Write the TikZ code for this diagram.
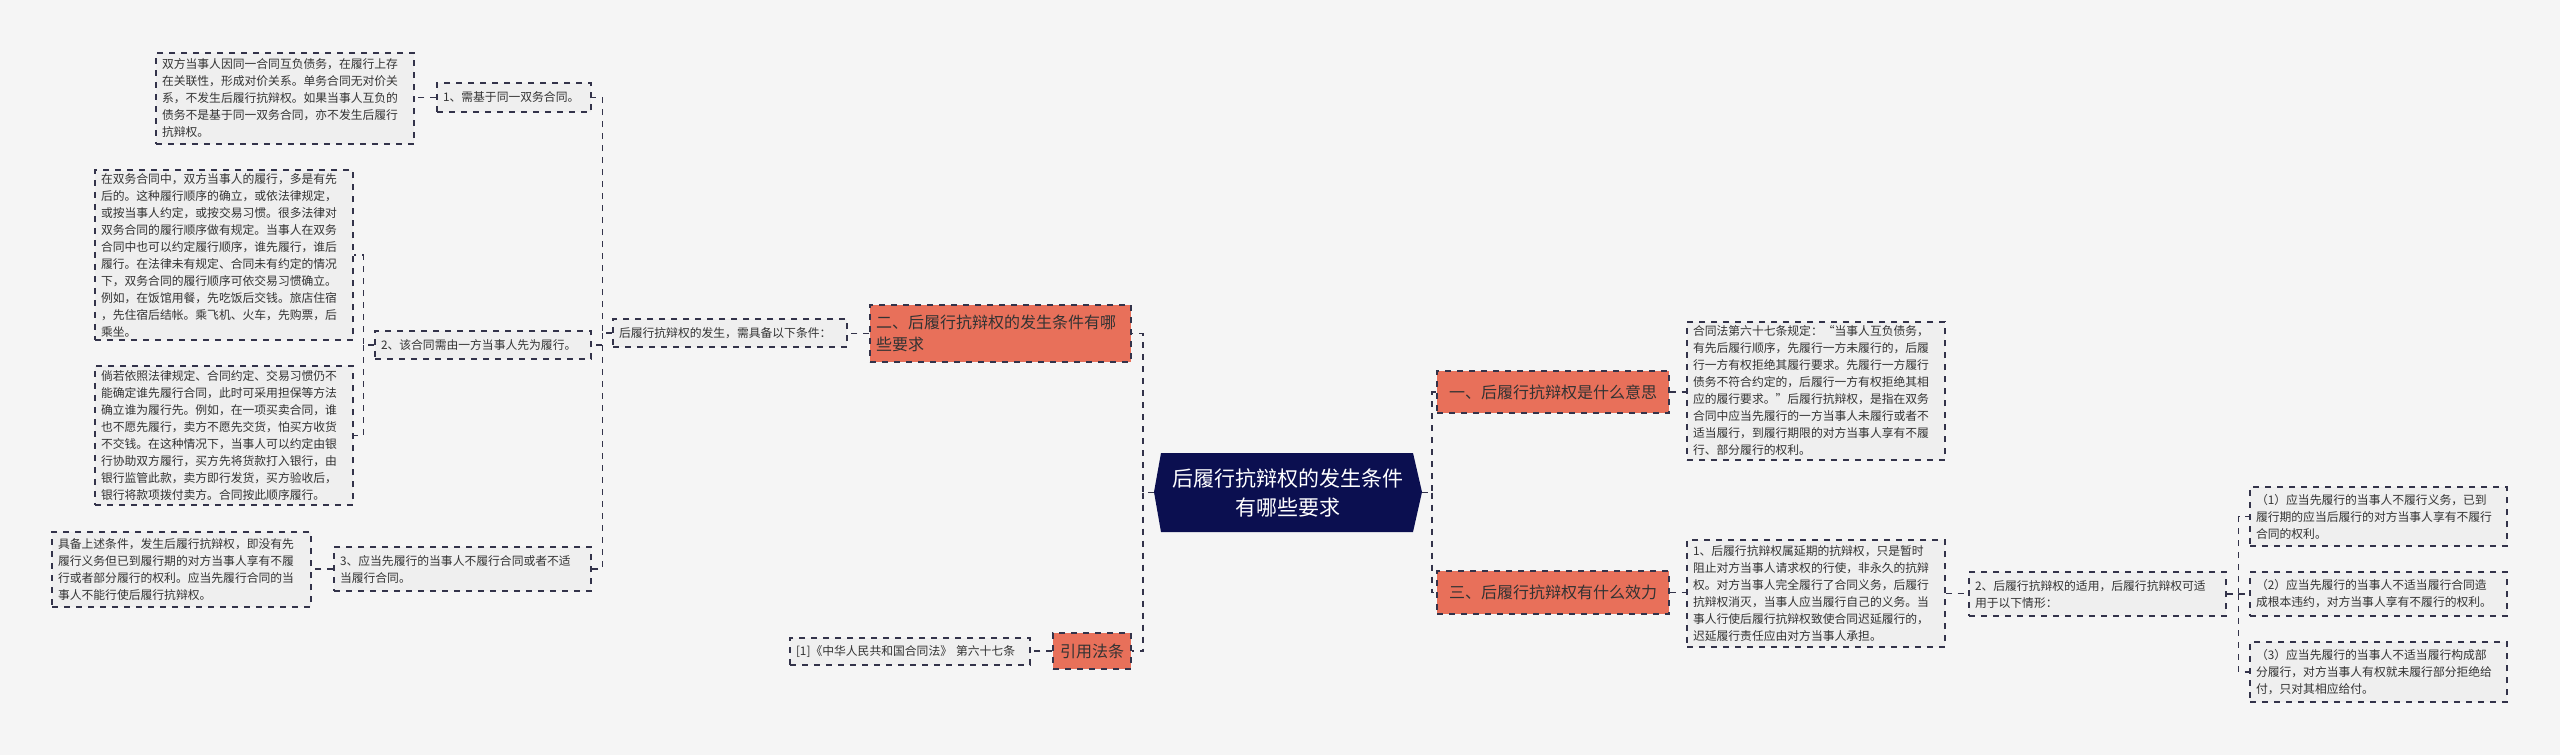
\documentclass[tikz,border=0pt]{standalone}
\usepackage{fontspec}
\setmainfont{Noto Sans CJK SC}
\definecolor{bg}{HTML}{F5F5F5}
\definecolor{leaffill}{HTML}{EFEFEF}
\definecolor{orng}{HTML}{E8705A}
\definecolor{navy}{HTML}{0B0F50}
\definecolor{ln}{HTML}{33334A}
\newcommand\bx[7]{%
\pgfmathsetmacro\cx{(#3+#5)/2}\pgfmathsetmacro\cy{(#4+#6)/2}%
\pgfmathsetmacro\ww{(#5-#3)*0.5-6}\pgfmathsetmacro\hh{(#6-#4)*0.5}%
\node[#1,text width=\ww pt,minimum height=\hh pt] (#2) at (\cx,\cy) {#7};}
\begin{document}
\begin{tikzpicture}[x=0.5pt,y=-0.5pt,
 leaf/.style={draw=ln,dashed,line width=0.6pt,fill=leaffill,inner xsep=3pt,inner ysep=0pt,align=left,font=\fontsize{5.9}{8.5}\selectfont,text=black!80},
 hub/.style={draw=ln,dashed,line width=0.6pt,fill=orng,inner xsep=3pt,inner ysep=0pt,align=left,font=\fontsize{8}{11}\selectfont,text=black!80},
 hubc/.style={hub,align=center},
 conn/.style={draw=ln,dashed,line width=0.7pt}]
\fill[bg] (0,0) rectangle (2560,755);
\useasboundingbox (0,0) rectangle (2560,755);
% root
\fill[navy] (1161,453) -- (1413,453) -- (1422,492) -- (1413,532) -- (1161,532) -- (1154,492) -- cycle;
\node[text=white,align=center,font=\fontsize{10.5}{14.5}\selectfont,minimum width=134pt,minimum height=39pt,inner sep=0pt] (root) at (1288,492.5) {后履行抗辩权的发生条件\\有哪些要求};
% left
\bx{hub}{n2}{870}{305}{1131}{362}{二、后履行抗辩权的发生条件有哪\\些要求}
\bx{hubc}{yin}{1053}{633}{1131}{669}{引用法条}
\bx{leaf}{ref}{790}{638}{1030}{665}{[1]《中华人民共和国合同法》 第六十七条}
\bx{leaf}{cond}{613}{319}{847}{347}{后履行抗辩权的发生，需具备以下条件：}
\bx{leaf}{c1}{437}{83}{591}{112}{1、需基于同一双务合同。}
\bx{leaf}{c2}{375}{331}{591}{359}{2、该合同需由一方当事人先为履行。}
\bx{leaf}{c3}{334}{547}{591}{591}{3、应当先履行的当事人不履行合同或者不适\\当履行合同。}
\bx{leaf}{a1}{156}{53}{414}{144}{双方当事人因同一合同互负债务，在履行上存\\在关联性，形成对价关系。单务合同无对价关\\系，不发生后履行抗辩权。如果当事人互负的\\债务不是基于同一双务合同，亦不发生后履行\\抗辩权。}
\bx{leaf}{a2}{95}{170}{353}{340}{在双务合同中，双方当事人的履行，多是有先\\后的。这种履行顺序的确立，或依法律规定，\\或按当事人约定，或按交易习惯。很多法律对\\双务合同的履行顺序做有规定。当事人在双务\\合同中也可以约定履行顺序，谁先履行，谁后\\履行。在法律未有规定、合同未有约定的情况\\下，双务合同的履行顺序可依交易习惯确立。\\例如，在饭馆用餐，先吃饭后交钱。旅店住宿\\，先住宿后结帐。乘飞机、火车，先购票，后\\乘坐。}
\bx{leaf}{a3}{95}{366}{353}{505}{倘若依照法律规定、合同约定、交易习惯仍不\\能确定谁先履行合同，此时可采用担保等方法\\确立谁为履行先。例如，在一项买卖合同，谁\\也不愿先履行，卖方不愿先交货，怕买方收货\\不交钱。在这种情况下，当事人可以约定由银\\行协助双方履行，买方先将货款打入银行，由\\银行监管此款，卖方即行发货，买方验收后，\\银行将款项拨付卖方。合同按此顺序履行。}
\bx{leaf}{d3}{52}{532}{311}{607}{具备上述条件，发生后履行抗辩权，即没有先\\履行义务但已到履行期的对方当事人享有不履\\行或者部分履行的权利。应当先履行合同的当\\事人不能行使后履行抗辩权。}
% right
\bx{hubc}{r1}{1437}{371}{1669}{413}{一、后履行抗辩权是什么意思}
\bx{hubc}{r3}{1437}{571}{1669}{614}{三、后履行抗辩权有什么效力}
\bx{leaf}{h}{1687}{322}{1945}{460}{合同法第六十七条规定：“当事人互负债务，\\有先后履行顺序，先履行一方未履行的，后履\\行一方有权拒绝其履行要求。先履行一方履行\\债务不符合约定的，后履行一方有权拒绝其相\\应的履行要求。”后履行抗辩权，是指在双务\\合同中应当先履行的一方当事人未履行或者不\\适当履行，到履行期限的对方当事人享有不履\\行、部分履行的权利。}
\bx{leaf}{t1}{1687}{540}{1945}{647}{1、后履行抗辩权属延期的抗辩权，只是暂时\\阻止对方当事人请求权的行使，非永久的抗辩\\权。对方当事人完全履行了合同义务，后履行\\抗辩权消灭，当事人应当履行自己的义务。当\\事人行使后履行抗辩权致使合同迟延履行的，\\迟延履行责任应由对方当事人承担。}
\bx{leaf}{t2}{1969}{572}{2226}{616}{2、后履行抗辩权的适用，后履行抗辩权可适\\用于以下情形：}
\bx{leaf}{s1}{2250}{487}{2507}{546}{（1）应当先履行的当事人不履行义务，已到\\履行期的应当后履行的对方当事人享有不履行\\合同的权利。}
\bx{leaf}{s2}{2250}{572}{2507}{616}{（2）应当先履行的当事人不适当履行合同造\\成根本违约，对方当事人享有不履行的权利。}
\bx{leaf}{s3}{2250}{642}{2507}{702}{（3）应当先履行的当事人不适当履行构成部\\分履行，对方当事人有权就未履行部分拒绝给\\付，只对其相应给付。}
% connectors
\draw[conn] (root.west) ++(-134,0) coordinate (rw) (1154,492.5) -- (1143,492.5) |- (n2.east);
\draw[conn] (1143,492.5) |- (yin.east);
\draw[conn] (n2.west) -- (cond.east |- n2.west);
\draw[conn] (yin.west) -- (ref.east |- yin.west);
\draw[conn] (cond.west) -- ++(-10,0) |- (c1.east);
\draw[conn] (cond.west) ++(-10,0) |- (c2.east);
\draw[conn] (cond.west) ++(-10,0) |- (c3.east);
\draw[conn] (c1.west) -- (a1.east |- c1.west);
\draw[conn] (c2.west) -- ++(-11,0) |- (a2.east);
\draw[conn] (c2.west) ++(-11,0) |- (a3.east);
\draw[conn] (c3.west) -- (d3.east |- c3.west);
\draw[conn] (1422,492.5) -- (1432,492.5) |- (r1.west);
\draw[conn] (1432,492.5) |- (r3.west);
\draw[conn] (r1.east) -- (h.west |- r1.east);
\draw[conn] (r3.east) -- (t1.west |- r3.east);
\draw[conn] (t1.east) -- (t2.west |- t1.east);
\draw[conn] (t2.east) -- ++(12,0) |- (s1.west);
\draw[conn] (t2.east) ++(12,0) |- (s2.west);
\draw[conn] (t2.east) ++(12,0) |- (s3.west);
\end{tikzpicture}
\end{document}
